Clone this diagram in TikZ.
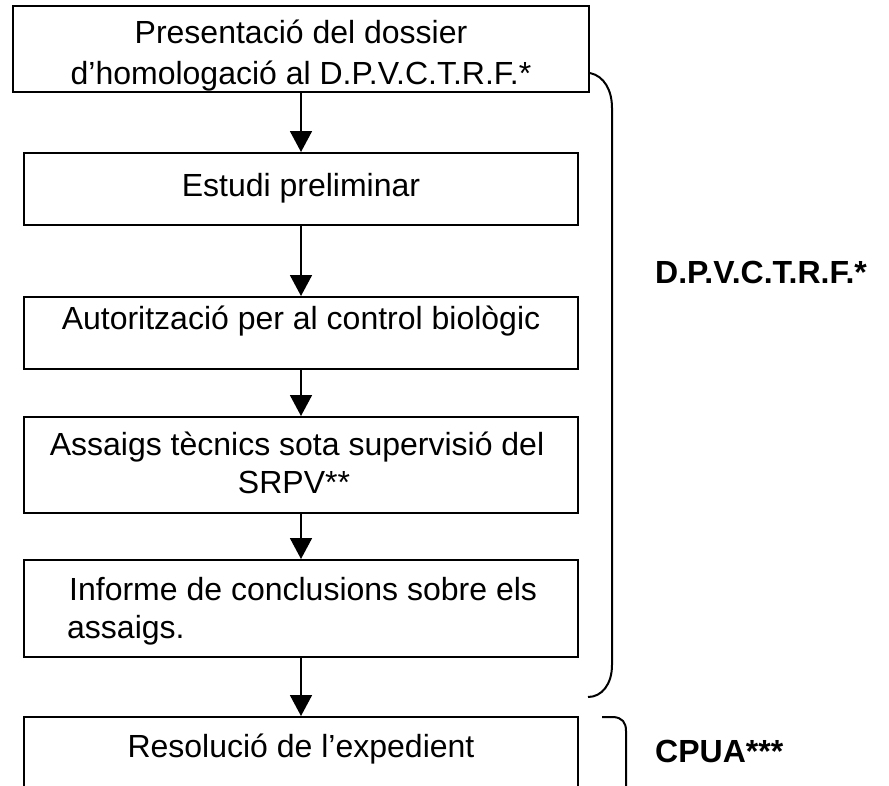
\documentclass[tikz,border=0pt]{standalone}
\usepackage{fontspec}
\setmainfont{Liberation Sans}
\usetikzlibrary{arrows.meta}
\begin{document}
\begin{tikzpicture}[x=1pt,y=-1pt,
  box/.style={draw, line width=2pt, inner sep=0pt},
  flow/.style={-{Triangle[width=22pt,length=21pt]}, line width=1.8pt},
  txt/.style={inner sep=0pt, font=\fontsize{32}{38}\selectfont},
  lbl/.style={inner sep=0pt, anchor=base west, font=\fontsize{32}{38}\selectfont\bfseries},
  brace/.style={line width=2pt}]
\useasboundingbox (0,0) rectangle (889,785);
\clip (0,0) rectangle (889,785);
% boxes
\node[box, minimum width=576, minimum height=86] (b1) at (301,49) {};
\node[box, minimum width=554, minimum height=72] (b2) at (301,189) {};
\node[box, minimum width=554, minimum height=72] (b3) at (301,333) {};
\node[box, minimum width=554, minimum height=96] (b4) at (301,465) {};
\node[box, minimum width=554, minimum height=97] (b5) at (301,608.5) {};
\node[box, minimum width=554, minimum height=103] (b6) at (301,768.5) {};
% texts
\node[txt, anchor=base] (t1a) at (301,43) {Presentació del dossier};
\node[txt, anchor=base] (t1b) at (301,84) {d’homologació al D.P.V.C.T.R.F.*};
\node[txt, anchor=base] (t2) at (301,196) {Estudi preliminar};
\node[txt, anchor=base] (t3) at (301,329) {Autorització per al control biològic};
\node[txt, anchor=base] (t4a) at (297,455) {Assaigs tècnics sota supervisió del};
\node[txt, anchor=base] (t4b) at (294,493) {SRPV**};
\node[txt, anchor=base west] (t5a) at (69,600) {Informe de conclusions sobre els};
\node[txt, anchor=base west] (t5b) at (67,638) {assaigs.};
\node[txt, anchor=base] (t6) at (301,757) {Resolució de l’expedient};
% connectors
\draw[flow] (b1) -- (b2);
\draw[flow] (b2) -- (b3);
\draw[flow] (b3) -- (b4);
\draw[flow] (b4) -- (b5);
\draw[flow] (b5) -- (b6);
% braces
\coordinate (ba) at (590,73);
\coordinate (bb) at (588,697);
\draw[brace] (ba) .. controls (604,76) and (612,90) .. (612,108) -- (612,665) .. controls (612,684) and (602,697) .. (bb);
\coordinate (ca) at (602,717);
\draw[brace] (ca) -- (614,717) .. controls (622,718) and (626,722) .. (626,731) -- (626,800);
% labels
\node[lbl] (l1) at (655,283) {D.P.V.C.T.R.F.*};
\node[lbl] (l2) at (655,762) {CPUA***};
\end{tikzpicture}
\end{document}
